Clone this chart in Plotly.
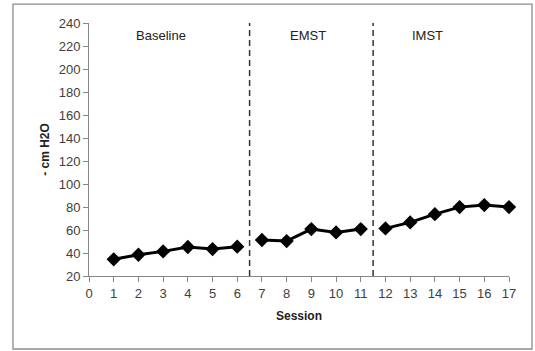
import plotly.graph_objects as go

baseline_sessions = [1, 2, 3, 4, 5, 6]
baseline_values = [34.5, 38.5, 41.4, 45.2, 43.4, 45.5]
emst_sessions = [7, 8, 9, 10, 11]
emst_values = [51.3, 50.4, 60.8, 57.9, 60.8]
imst_sessions = [12, 13, 14, 15, 16, 17]
imst_values = [61.4, 66.6, 73.8, 79.9, 81.7, 79.9]
phase_labels = ["Baseline", "EMST", "IMST"]
phase_label_x = [2.9, 8.87, 13.7]
phase_breaks = [6.5, 11.5]

FONT = "Liberation Sans, Arial, sans-serif"
fig = go.Figure()
for xs, ys in [(baseline_sessions, baseline_values), (emst_sessions, emst_values), (imst_sessions, imst_values)]:
    fig.add_trace(go.Scatter(x=xs, y=ys, mode="lines+markers",
                             line=dict(color="black", width=3),
                             marker=dict(symbol="diamond", size=11, color="black"),
                             showlegend=False, cliponaxis=False))

for b in phase_breaks:
    fig.add_shape(type="line", x0=b, x1=b, y0=20, y1=240, xref="x", yref="y",
                  line=dict(color="#333333", width=1.5, dash="6px,4px"))

for lab, lx in zip(phase_labels, phase_label_x):
    fig.add_annotation(x=lx, y=229, text=lab, showarrow=False, xref="x", yref="y",
                       font=dict(family=FONT, size=13, color="#222222"))

fig.add_shape(type="rect", xref="paper", yref="paper",
              x0=-0.181, x1=1.0548, y0=-0.2885, y1=1.075,
              line=dict(color="#8c8c8c", width=1.3))

fig.update_layout(
    width=535, height=351,
    margin=dict(l=89, r=26, t=23, b=75),
    plot_bgcolor="white", paper_bgcolor="white",
    font=dict(family=FONT, size=12, color="#404040"),
)
fig.update_xaxes(range=[0, 17], dtick=1, tick0=0, showgrid=False, zeroline=False,
                 showline=True, linecolor="#868686", linewidth=1,
                 ticks="outside", ticklen=5, tickcolor="#868686",
                 tickfont=dict(size=13, color="#404040"),
                 title=dict(text="<b>Session</b>", font=dict(size=12, color="#222222"), standoff=12))
fig.update_yaxes(range=[20, 240], dtick=20, tick0=20, showgrid=False, zeroline=False,
                 showline=True, linecolor="#868686", linewidth=1,
                 ticks="outside", ticklen=5, tickcolor="#868686",
                 tickfont=dict(size=13, color="#404040"),
                 title=dict(text="<b>- cm H2O</b>", font=dict(size=12, color="#222222"), standoff=6))

fig.write_html("out.html", config={"displayModeBar": False},
               post_script="document.body.style.margin='0';document.body.style.overflow='hidden';")
